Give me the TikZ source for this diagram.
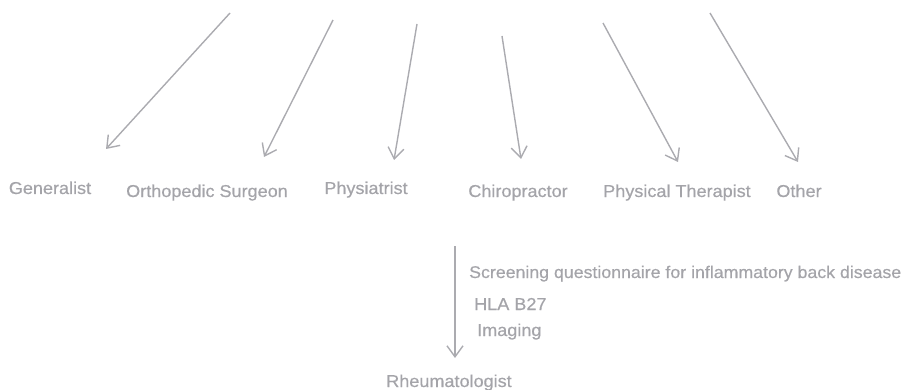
\documentclass[tikz,border=0pt]{standalone}
\usepackage{fontspec}
\setmainfont[FakeStretch=1.05,FakeBold=0.5]{Liberation Sans}
\usetikzlibrary{arrows.meta}
\definecolor{labelgray}{HTML}{A4A4A9}
\definecolor{arrowgray}{HTML}{ABABB0}

\begin{document}
\begin{tikzpicture}[x=1pt,y=-1pt,
    lbl/.style={text=labelgray,inner sep=0pt,font=\fontsize{17.2}{20}\selectfont},
    referral/.style={draw=arrowgray,line width=1.4pt,-{Straight Barb[length=11pt,width=16pt]}}]
            \useasboundingbox (0,0) rectangle (902,390);
            % who sends the patient
            \foreach \name/\x/\y/\txt in {gen/50/194/Generalist, ortho/207/197/Orthopedic Surgeon,
                physi/366/194/Physiatrist, chiro/518/197/Chiropractor,
                pt/677/197/Physical Therapist, other/799/197/Other}
                \node [lbl,anchor=base] (\name) at (\x,\y) {\txt};
            \foreach \xa/\ya/\xb/\yb [count=\i] in {230/13/106/149, 333/20/264/157, 417/24/394/160,
                502/36/521/159, 603/23/678/162, 710/13/798/162}
                {
                \coordinate (from\i) at (\xa,\ya);
                \coordinate (to\i) at (\xb,\yb);
                \draw [referral] (from\i) -- (to\i);
                }
            % on to the rheumatologist
            \coordinate (down) at (455,246);
            \coordinate (arrive) at (455,358);
            \node [lbl,anchor=base] (rheum) at (449,387) {Rheumatologist};
            \draw [referral] (down) -- (arrive);
            \node [lbl,anchor=base west,font=\fontsize{16.9}{20}\selectfont] (screen) at (469,278) {Screening questionnaire for inflammatory back disease};
            \node [lbl,anchor=base west] (hla) at (474,310) {HLA B27};
            \node [lbl,anchor=base west] (imaging) at (477,336) {Imaging};
        \end{tikzpicture}
\end{document}
